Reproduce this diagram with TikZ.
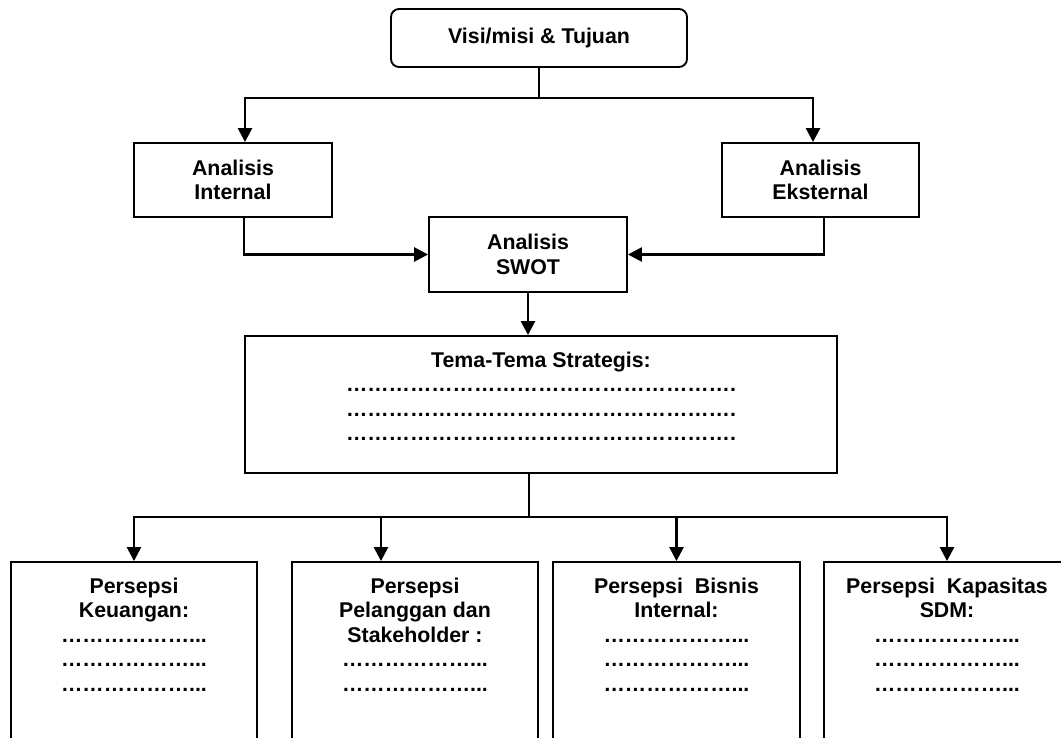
\documentclass[tikz,border=0pt]{standalone}
\usepackage{fontspec}
\setmainfont{Liberation Sans}
\usepackage{tikz}
\usetikzlibrary{arrows.meta}
\usetikzlibrary{calc}

\tikzset{
  kotak/.style={draw, line width=1.4pt, inner sep=0pt},
  teks/.style={font=\fontsize{16}{18.4}\selectfont\bfseries, align=center, inner sep=0pt},
  panah/.style={line width=1.9pt, -{Triangle[length=10.5pt,width=10.5pt]}},
  tangkai/.style={line width=1.1pt},
}

\begin{document}
\begin{tikzpicture}[x=0.75pt,y=-0.75pt]
\useasboundingbox (0,0) rectangle (1061,738);
\clip (0,0) rectangle (1061,738);

%visi
\node[kotak, teks, rounded corners=6pt, minimum width=222pt, minimum height=43.5pt] (visi) at (539,38) {Visi/misi \& Tujuan};

%analisis
\node[kotak, teks, minimum width=148.5pt, minimum height=55.5pt] (intern) at (233,180) {Analisis\\Internal};
\node[kotak, teks, minimum width=147.75pt, minimum height=55.5pt] (ekstern) at (820.5,180) {Analisis\\Eksternal};
\node[kotak, teks, minimum width=148.5pt, minimum height=56.25pt] (swot) at (528,254.5) {Analisis\\SWOT};

%tema
\node[kotak, minimum width=444pt, minimum height=102.75pt] (tema) at (541,404.5) {};
\node[teks, anchor=north] (tematxt) at ([yshift=-12.4pt]tema.north) {Tema-Tema Strategis:\\
……………………………………………….\\
……………………………………………….\\
……………………………………………….};

%persepsi
\node[kotak, minimum width=184.5pt, minimum height=163.5pt] (p1) at (134,671) {};
\node[kotak, minimum width=184.5pt, minimum height=163.5pt] (p2) at (415,671) {};
\node[kotak, minimum width=185.25pt, minimum height=163.5pt] (p3) at (676.5,671) {};
\node[kotak, minimum width=184.5pt, minimum height=163.5pt] (p4) at (947,671) {};

\node[teks, anchor=north] (p1txt) at ([yshift=-12.4pt]p1.north) {Persepsi\\Keuangan:\\………………...\\………………...\\………………...};
\node[teks, anchor=north] (p2txt) at ([yshift=-12.4pt]p2.north) {Persepsi\\Pelanggan dan\\Stakeholder :\\………………...\\………………...};
\node[teks, anchor=north] (p3txt) at ([yshift=-12.4pt]p3.north) {Persepsi~~Bisnis\\Internal:\\………………...\\………………...\\………………...};
\node[teks, anchor=north] (p4txt) at ([yshift=-12.4pt]p4.north) {Persepsi~~Kapasitas\\SDM:\\………………...\\………………...\\………………...};

%panah
\coordinate (cabang1) at (539,98);
\draw[tangkai] (visi.south) -- (cabang1);
\draw[panah] (cabang1) -| ([xshift=9pt]intern.north);
\draw[panah] (cabang1) -| ([xshift=-5.6pt]ekstern.north);
\draw[panah] ([xshift=8.25pt]intern.south) |- (swot.west);
\draw[panah] ([xshift=2.6pt]ekstern.south) |- (swot.east);
\draw[panah] (swot.south) -- (swot.south |- tema.north);

\coordinate (cabang2) at (529,517);
\draw[tangkai] (cabang2 |- tema.south) -- (cabang2);
\draw[panah] (cabang2) -| (p1.north);
\draw[panah] (cabang2) -| ([xshift=-25.5pt]p2.north);
\draw[panah] (cabang2) -| (p3.north);
\draw[panah] (cabang2) -| (p4.north);

\end{tikzpicture}
\end{document}
